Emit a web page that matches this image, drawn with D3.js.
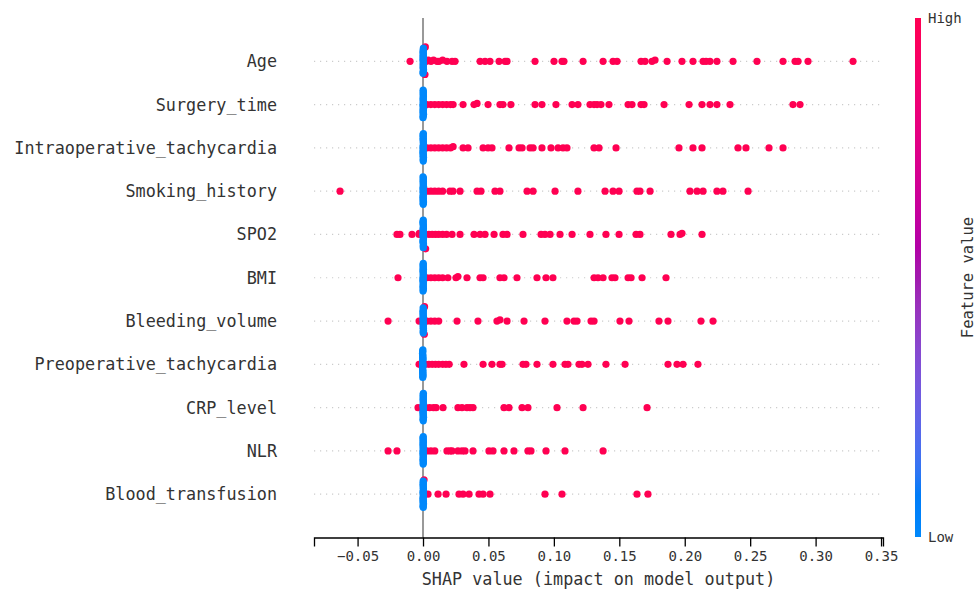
<!DOCTYPE html>
<html>
<head>
<meta charset="utf-8">
<script src="https://cdnjs.cloudflare.com/ajax/libs/d3/7.8.5/d3.min.js"></script>
<style>
  html, body { margin: 0; padding: 0; background: #fff; }
  svg text { font-family: "DejaVu Sans Mono", monospace; fill: #333; }
</style>
</head>
<body>
<svg id="chart" width="979" height="595"></svg>
<script>
;(function (window, document, undefined) {

  'use strict';

  // features, top to bottom
  var features = ['Age', 'Surgery_time', 'Intraoperative_tachycardia', 'Smoking_history',
    'SPO2', 'BMI', 'Bleeding_volume', 'Preoperative_tachycardia', 'CRP_level', 'NLR',
    'Blood_transfusion'];

  var xTicks = [-0.05, 0, 0.05, 0.10, 0.15, 0.20, 0.25, 0.30, 0.35];

  // SHAP values of samples with a high feature value (red)
  var highAge = [-0.0099, 0.0015, 0.0018, 0.0025, 0.0040, 0.0061, 0.0080, 0.0107, 0.0122, 0.0150,
    0.0183, 0.0222, 0.0245, 0.0436, 0.0474, 0.0512, 0.0581, 0.0627, 0.0642, 0.0856, 0.1001,
    0.1062, 0.1077, 0.1223, 0.1376, 0.1452, 0.1483, 0.1666, 0.1697, 0.1750, 0.1773, 0.1865,
    0.1979, 0.2063, 0.2140, 0.2163, 0.2193, 0.2246, 0.2369, 0.2552, 0.2751, 0.2843, 0.2866,
    0.2942, 0.3286];
  var highSurgery = [0.0030, 0.0060, 0.0090, 0.0120, 0.0150, 0.0180, 0.0210, 0.0230, 0.0306,
    0.0390, 0.0413, 0.0497, 0.0588, 0.0611, 0.0672, 0.0856, 0.0909, 0.1016, 0.1139, 0.1184,
    0.1276, 0.1307, 0.1330, 0.1360, 0.1421, 0.1567, 0.1597, 0.1666, 0.1689, 0.1842, 0.2033,
    0.2132, 0.2193, 0.2246, 0.2346, 0.2827, 0.2881];
  var highIntra = [0.0030, 0.0060, 0.0090, 0.0120, 0.0150, 0.0180, 0.0210, 0.0230, 0.0306,
    0.0344, 0.0459, 0.0497, 0.0527, 0.0657, 0.0734, 0.0757, 0.0818, 0.0841, 0.0909, 0.0978,
    0.1032, 0.1070, 0.1100, 0.1307, 0.1345, 0.1475, 0.1956, 0.2063, 0.2132, 0.2407, 0.2468,
    0.2644, 0.2751];
  var highSmoking = [-0.0634, 0.0030, 0.0060, 0.0090, 0.0120, 0.0150, 0.0206, 0.0229, 0.0283,
    0.0413, 0.0443, 0.0550, 0.0588, 0.0795, 0.0841, 0.1009, 0.1184, 0.1391, 0.1452, 0.1498,
    0.1635, 0.1658, 0.1735, 0.2040, 0.2094, 0.2140, 0.2246, 0.2292, 0.2484];
  var highSpo2 = [-0.0199, -0.0176, -0.0084, -0.0030, -0.0028, 0.0020, 0.0045, 0.0070, 0.0095,
    0.0120, 0.0150, 0.0180, 0.0222, 0.0283, 0.0390, 0.0436, 0.0474, 0.0543, 0.0611, 0.0642,
    0.0764, 0.0902, 0.0932, 0.0971, 0.1047, 0.1139, 0.1276, 0.1398, 0.1498, 0.1628, 0.1658,
    0.1895, 0.1964, 0.1979, 0.2132];
  var highBmi = [-0.0191, 0.0030, 0.0060, 0.0090, 0.0120, 0.0150, 0.0190, 0.0252, 0.0267, 0.0336,
    0.0436, 0.0459, 0.0588, 0.0619, 0.0718, 0.0871, 0.0940, 0.0993, 0.1307, 0.1337, 0.1376,
    0.1444, 0.1467, 0.1567, 0.1590, 0.1674, 0.1857];
  var highBleeding = [-0.0267, -0.0030, 0.0010, 0.0012, 0.0030, 0.0060, 0.0090, 0.0120, 0.0260,
    0.0420, 0.0565, 0.0588, 0.0642, 0.0772, 0.0932, 0.1100, 0.1154, 0.1177, 0.1284, 0.1307,
    0.1505, 0.1574, 0.1803, 0.1872, 0.2124, 0.2216];
  var highPreop = [-0.0030, 0.0020, 0.0045, 0.0070, 0.0095, 0.0120, 0.0150, 0.0175, 0.0200,
    0.0313, 0.0459, 0.0527, 0.0588, 0.0604, 0.0764, 0.0787, 0.0871, 0.0993, 0.1085, 0.1108,
    0.1192, 0.1215, 0.1261, 0.1398, 0.1544, 0.1872, 0.1941, 0.1987, 0.2101];
  var highCrp = [-0.0038, 0.0020, 0.0050, 0.0080, 0.0100, 0.0153, 0.0267, 0.0298, 0.0336, 0.0359,
    0.0382, 0.0619, 0.0657, 0.0757, 0.0802, 0.1024, 0.1223, 0.1712];
  var highNlr = [-0.0267, -0.0199, 0.0030, 0.0060, 0.0090, 0.0183, 0.0206, 0.0222, 0.0267, 0.0298,
    0.0321, 0.0382, 0.0504, 0.0535, 0.0619, 0.0695, 0.0802, 0.0825, 0.0940, 0.1085, 0.1376];
  var highBlood = [0.0008, 0.0038, 0.0115, 0.0176, 0.0275, 0.0306, 0.0352, 0.0428, 0.0459, 0.0512,
    0.0932, 0.1062, 0.1635, 0.1719];

  // SHAP values of samples with a low feature value (blue), all close to zero
  var lowAge = [0.0002, 0.0001, 0.0003, 0.0000, 0.0002, 0.0004, 0.0001, 0.0000, 0.0003, 0.0002,
    0.0001, 0.0003, 0.0002, 0.0000, 0.0004, 0.0001, 0.0002, 0.0003, 0.0001, 0.0002, 0.0000, 0.0003];
  var lowSurgery = [0.0001, 0.0002, 0.0000, 0.0003, 0.0002, 0.0001, 0.0004, 0.0002, 0.0000, 0.0001,
    0.0003, 0.0002, 0.0001, 0.0003, 0.0000, 0.0002, 0.0004, 0.0001, 0.0002, 0.0003, 0.0001, 0.0002,
    0.0000, 0.0001];
  var lowIntra = [0.0002, 0.0000, 0.0001, 0.0003, 0.0002, 0.0004, 0.0001, 0.0002, 0.0000, 0.0003,
    0.0001, 0.0002, 0.0003, 0.0001, 0.0000, 0.0002, 0.0004, 0.0001, 0.0003, 0.0002, 0.0001, 0.0000,
    0.0002, 0.0003];
  var lowSmoking = [0.0001, 0.0003, 0.0002, 0.0000, 0.0002, 0.0001, 0.0003, 0.0004, 0.0001, 0.0002,
    0.0000, 0.0003, 0.0002, 0.0001, 0.0002, 0.0003, 0.0000, 0.0001, 0.0004, 0.0002, 0.0001, 0.0003,
    0.0002, 0.0000];
  var lowSpo2 = [0.0002, 0.0001, 0.0000, 0.0003, 0.0001, 0.0002, 0.0004, 0.0000, 0.0002, 0.0003,
    0.0001, 0.0002, 0.0000, 0.0003, 0.0001, 0.0002, 0.0004, 0.0001, 0.0002, 0.0000, 0.0003, 0.0001,
    0.0002, 0.0002];
  var lowBmi = [0.0001, 0.0002, 0.0000, 0.0003, 0.0001, 0.0002, 0.0000, 0.0002, 0.0003, 0.0001,
    0.0002, 0.0000, 0.0001, 0.0003, 0.0002, 0.0001, 0.0000, 0.0002, 0.0003, 0.0001, 0.0002, 0.0001,
    0.0000, 0.0002];
  var lowBleeding = [0.0002, 0.0001, 0.0003, 0.0000, 0.0002, 0.0004, 0.0001, 0.0002, 0.0003, 0.0000,
    0.0001, 0.0002, 0.0003, 0.0001, 0.0002, 0.0000, 0.0004, 0.0002, 0.0001, 0.0003, 0.0002, 0.0001];
  var lowPreop = [-0.0001, -0.0002, 0.0000, -0.0003, -0.0001, -0.0002, -0.0004, 0.0000, -0.0002,
    -0.0001, -0.0003, -0.0002, 0.0000, -0.0001, -0.0003, -0.0002, -0.0001, -0.0004, 0.0000, -0.0002,
    -0.0001, -0.0003, -0.0002, -0.0001];
  var lowCrp = [0.0002, 0.0001, 0.0003, 0.0000, 0.0002, 0.0004, 0.0001, 0.0002, 0.0000, 0.0003,
    0.0001, 0.0002, 0.0003, 0.0001, 0.0000, 0.0002, 0.0004, 0.0001, 0.0002, 0.0003, 0.0000, 0.0001,
    0.0002, 0.0003];
  var lowNlr = [0.0001, 0.0002, 0.0000, 0.0003, 0.0002, 0.0001, 0.0000, 0.0002, 0.0003, 0.0001,
    0.0002, 0.0000, 0.0001, 0.0003, 0.0002, 0.0001, 0.0000, 0.0002, 0.0003, 0.0001, 0.0002, 0.0000,
    0.0001, 0.0002];
  var lowBlood = [0.0002, 0.0001, 0.0003, 0.0000, 0.0002, 0.0004, 0.0001, 0.0002, 0.0000, 0.0003,
    0.0001, 0.0002, 0.0003, 0.0001, 0.0000, 0.0002, 0.0004, 0.0001, 0.0002, 0.0003, 0.0000, 0.0001,
    0.0002];

  var highs = [highAge, highSurgery, highIntra, highSmoking, highSpo2, highBmi, highBleeding,
    highPreop, highCrp, highNlr, highBlood];
  var lows = [lowAge, lowSurgery, lowIntra, lowSmoking, lowSpo2, lowBmi, lowBleeding,
    lowPreop, lowCrp, lowNlr, lowBlood];

  // shap red_blue colormap (interpolated in LCh)
  var redBlue = function (t) {
    var l = t < 0.5 ? 54 - 28 * t : 40 + 28 * (t - 0.5);
    var c = 70 + 20 * t;
    var h = 266.93 + (380.32 - 266.93) * t;
    return d3.hcl(h % 360, c, l).formatHex();
  };

  var svg = d3.select('#chart');
  var W = 979, H = 595;

  var x = d3.scaleLinear().domain([-0.0833, 0.3515]).range([314, 883]);
  var y = d3.scaleLinear().domain([-1, features.length]).range([537.5, 18]);
  var rowH = Math.abs(y(0) - y(1));

  // beeswarm offsets, same binning as shap's summary plot
  var _swarm = function (points) {
    var vals = points.map(function (p) { return p.v; });
    var mn = d3.min(vals), mx = d3.max(vals);
    var nbins = 100;
    var quant = vals.map(function (v) { return Math.round(nbins * (v - mn) / (mx - mn + 1e-8)); });
    var inds = d3.range(points.length).sort(function (a, b) { return quant[a] - quant[b] || a - b; });
    var layer = 0, last = -1;
    var ys = new Array(points.length).fill(0);
    inds.forEach(function (i) {
      if (quant[i] !== last) layer = 0;
      ys[i] = Math.ceil(layer / 2) * ((layer % 2) * 2 - 1);
      layer += 1;
      last = quant[i];
    });
    var top = d3.max(ys, function (d) { return d + 1; });
    return ys.map(function (d) { return d * 0.9 * (0.4 / top); });
  };

  var rows = features.map(function (name, i) {
    var pos = features.length - 1 - i;
    var pts = lows[i].map(function (v) { return { v: v, c: 0 }; })
      .concat(highs[i].map(function (v) { return { v: v, c: 1 }; }));
    var ys = _swarm(pts);
    pts.forEach(function (p, k) { p.y = pos + ys[k]; });
    return { name: name, pos: pos, points: pts };
  });

  // dotted row guides
  svg.append('g').selectAll('line')
    .data(rows)
    .enter().append('line')
    .attr('x1', x.range()[0]).attr('x2', x.range()[1])
    .attr('y1', function (d) { return y(d.pos); })
    .attr('y2', function (d) { return y(d.pos); })
    .attr('stroke', '#cccccc')
    .attr('stroke-width', 1.2)
    .attr('stroke-dasharray', '1.2,4.8');

  // zero line
  svg.append('line')
    .attr('x1', x(0)).attr('x2', x(0))
    .attr('y1', y.range()[1]).attr('y2', y.range()[0])
    .attr('stroke', '#999999')
    .attr('stroke-width', 2);

  // points: red under, blue on top
  var dots = svg.append('g');
  rows.forEach(function (row) {
    var ordered = row.points.filter(function (p) { return p.c === 1; })
      .concat(row.points.filter(function (p) { return p.c === 0; }));
    dots.selectAll(null)
      .data(ordered)
      .enter().append('circle')
      .attr('cx', function (d) { return x(d.v); })
      .attr('cy', function (d) { return y(d.y); })
      .attr('r', 3.6)
      .attr('fill', function (d) { return redBlue(d.c); });
  });

  // x axis
  var xAxis = svg.append('g')
    .attr('transform', 'translate(0,' + y.range()[0] + ')')
    .call(d3.axisBottom(x).tickValues(xTicks).tickFormat(d3.format('.2f')).tickSizeOuter(0).tickSize(9).tickPadding(5));
  xAxis.select('.domain').attr('stroke', '#000').attr('stroke-width', 1.3);
  xAxis.selectAll('.tick line').attr('stroke', '#000').attr('stroke-width', 1.3);
  xAxis.selectAll('.tick text')
    .style('font-family', '"DejaVu Sans Mono", monospace')
    .style('font-size', '14px')
    .attr('fill', '#333');

  svg.append('text')
    .attr('x', (x.range()[0] + x.range()[1]) / 2)
    .attr('y', 579)
    .attr('text-anchor', 'middle')
    .attr('dominant-baseline', 'central')
    .style('font-size', '16.8px')
    .text('SHAP value (impact on model output)');

  // feature labels
  svg.append('g').selectAll('text')
    .data(rows)
    .enter().append('text')
    .attr('x', 277)
    .attr('y', function (d) { return y(d.pos); })
    .attr('text-anchor', 'end')
    .attr('dominant-baseline', 'central')
    .style('font-size', '16.8px')
    .text(function (d) { return d.name; });

  // colour bar
  var grad = svg.append('defs').append('linearGradient')
    .attr('id', 'cbar')
    .attr('x1', 0).attr('y1', 1).attr('x2', 0).attr('y2', 0);
  grad.selectAll('stop')
    .data(d3.range(0, 1.0001, 0.02))
    .enter().append('stop')
    .attr('offset', function (t) { return t; })
    .attr('stop-color', function (t) { return redBlue(t); });

  var cb = d3.scaleLinear().domain([0, 1]).range([537, 18]);
  svg.append('rect')
    .attr('x', 915).attr('width', 6)
    .attr('y', cb(1)).attr('height', cb(0) - cb(1))
    .attr('fill', 'url(#cbar)');

  svg.append('text')
    .attr('x', 928).attr('y', cb(1))
    .attr('dominant-baseline', 'central')
    .style('font-size', '14px')
    .text('High');
  svg.append('text')
    .attr('x', 928).attr('y', cb(0))
    .attr('dominant-baseline', 'central')
    .style('font-size', '14px')
    .text('Low');
  svg.append('text')
    .attr('transform', 'translate(968,' + cb(0.5) + ') rotate(-90)')
    .attr('text-anchor', 'middle')
    .attr('dominant-baseline', 'central')
    .style('font-size', '15.5px')
    .text('Feature value');

})(window, document);
</script>
</body>
</html>
